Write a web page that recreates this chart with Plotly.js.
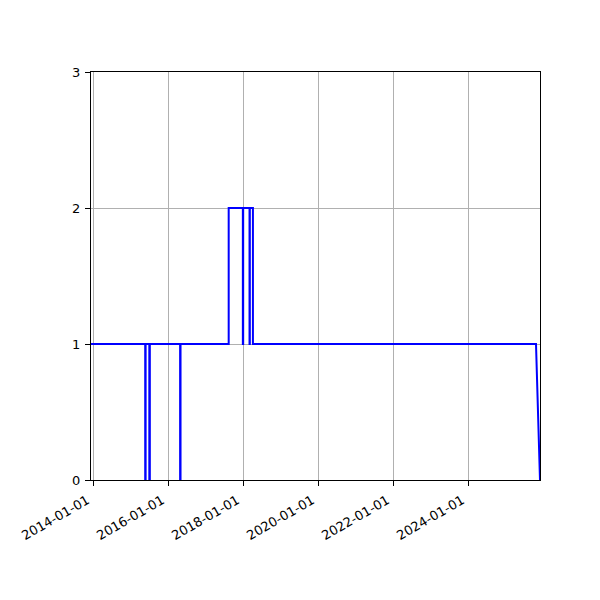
<!DOCTYPE html>
<html>
<head>
<meta charset="utf-8">
<script src="https://cdn.plot.ly/plotly-3.0.1.min.js"></script>
<style>
  html, body { margin: 0; padding: 0; background: #fff; }
  #chart { width: 600px; height: 600px; }
</style>
</head>
<body>
<div id="chart"></div>
<script>
// change points of the step series
const dates = [
    '2013-12-10', '2015-05-22', '2015-05-22', '2015-05-26', '2015-05-26',
    '2015-07-01', '2015-07-01', '2015-07-06', '2015-07-06',
    '2016-04-26', '2016-04-26', '2016-04-30', '2016-04-30',
    '2017-08-12', '2017-08-12', '2017-12-28', '2017-12-28', '2017-12-31', '2017-12-31',
    '2018-03-03', '2018-03-03', '2018-03-06', '2018-03-06',
    '2018-04-05', '2018-04-05', '2025-10-22', '2025-11-30'
];
const counts = [
    1, 1, 0, 0, 1,
    1, 0, 0, 1,
    1, 0, 0, 1,
    1, 2, 2, 1, 1, 2,
    2, 1, 1, 2,
    2, 1, 1, 0
];
const xTicks = ['2014-01-01', '2016-01-01', '2018-01-01', '2020-01-01', '2022-01-01', '2024-01-01'];
const yTicks = [0, 1, 2, 3];

const axisBase = {
    showline: true, mirror: true, linecolor: '#000', linewidth: 1,
    showgrid: true, gridcolor: '#b0b0b0', gridwidth: 1,
    ticks: 'outside', ticklen: 5, tickwidth: 1, tickcolor: '#000',
    zeroline: false, fixedrange: true
};

const layout = {
    width: 600, height: 600,
    paper_bgcolor: '#fff', plot_bgcolor: '#fff',
    font: { family: 'DejaVu Sans, sans-serif', size: 13, color: '#000' },
    margin: { l: 91, r: 60, t: 72, b: 120 },
    showlegend: false,
    xaxis: {
        ...axisBase, type: 'date',
        range: [dates[0], dates[dates.length - 1]],
        tickvals: xTicks, ticktext: xTicks, tickangle: -30,
        ticklabelshift: -6, ticklabelstandoff: 2
    },
    yaxis: {
        ...axisBase, range: [0, 3],
        tickvals: yTicks, ticktext: yTicks.map(String),
        ticklabelstandoff: 2
    }
};

Plotly.newPlot('chart', [{
    x: dates, y: counts, type: 'scatter', mode: 'lines',
    line: { color: '#0000ff', width: 2 }, hoverinfo: 'skip'
}], layout, { displayModeBar: false, staticPlot: true });
</script>
</body>
</html>
